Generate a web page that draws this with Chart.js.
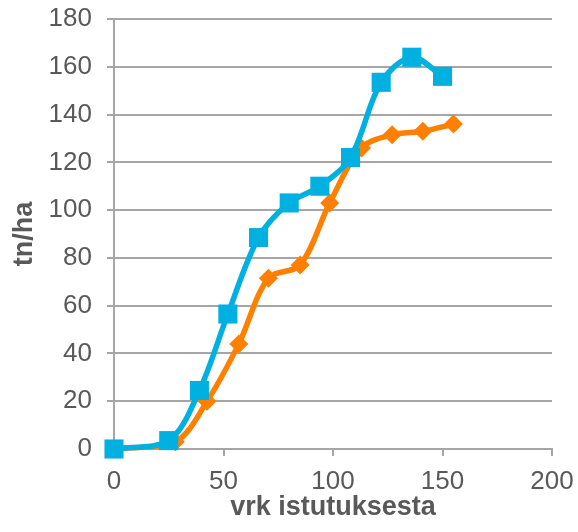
<!DOCTYPE html>
<html>
<head>
<meta charset="utf-8">
<script src="https://cdn.jsdelivr.net/npm/chart.js@4"></script>
<style>
  html, body { margin: 0; padding: 0; background: #fff; }
  #wrap { width: 578px; height: 532px; }
</style>
</head>
<body>
<div id="wrap"><canvas id="kuva" width="578" height="532"></canvas></div>
<script>
// sininen sarja (neliöt)
const vrkSininen = [0, 25, 39, 52, 66, 80, 94, 108, 122, 136, 150];
const tnSininen  = [0, 3.5, 24.5, 56.5, 88.5, 103, 110, 122, 153.5, 164, 156];

// oranssi sarja (vinoneliöt)
const vrkOranssi = [0, 28, 42.5, 57, 70.5, 85, 98.5, 113, 127, 141, 155];
const tnOranssi  = [0, 3, 20, 44, 71.5, 77, 103, 126, 131.5, 133, 136];

const xTicks = [0, 50, 100, 150, 200];
const yTicks = [0, 20, 40, 60, 80, 100, 120, 140, 160, 180];

const harmaa = '#595959';
const viiva = '#a6a6a6';
const fontti = 'Liberation Sans, Arial, sans-serif';

function pisteet(xs, ys) {
  return xs.map((x, i) => ({ x: x, y: ys[i] }));
}

const config = {
  type: 'scatter',
  data: {
    datasets: [
      {
        label: 'sarja 1',
        data: pisteet(vrkSininen, tnSininen),
        showLine: true,
        clip: false,
        borderColor: '#00b0e0',
        backgroundColor: '#00b0e0',
        borderWidth: 5.5,
        tension: 0.33,
        pointStyle: 'rect',
        pointRadius: 13.5,
        pointBorderWidth: 0,
      },
      {
        label: 'sarja 2',
        data: pisteet(vrkOranssi, tnOranssi),
        showLine: true,
        clip: false,
        borderColor: '#ff8000',
        backgroundColor: '#ff8000',
        borderWidth: 5.5,
        tension: 0.33,
        pointStyle: 'rectRot',
        pointRadius: 9.5,
        pointBorderWidth: 0,
      },
    ],
  },
  options: {
    responsive: false,
    animation: false,
    layout: { padding: { top: 19, right: 26, left: 0, bottom: 0 } },
    plugins: {
      legend: { display: false },
      tooltip: { enabled: false },
    },
    scales: {
      x: {
        type: 'linear',
        min: 0,
        max: 200,
        afterBuildTicks: (s) => { s.ticks = xTicks.map(v => ({ value: v })); },
        afterFit: (s) => { s.height = 83; s.paddingLeft = 0; s.paddingRight = 0; },
        grid: {
          display: true,
          drawOnChartArea: false,
          drawTicks: true,
          tickLength: 7,
          color: viiva,
          lineWidth: 2,
        },
        border: { color: viiva, width: 2 },
        ticks: {
          color: harmaa,
          font: { family: fontti, size: 26 },
          padding: 10,
          maxRotation: 0,
        },
        title: {
          display: true,
          text: 'vrk istutuksesta',
          color: harmaa,
          font: { family: fontti, size: 27, weight: 'bold' },
          padding: { top: 0, bottom: 8 },
        },
      },
      y: {
        type: 'linear',
        min: 0,
        max: 180,
        afterBuildTicks: (s) => { s.ticks = yTicks.map(v => ({ value: v })); },
        afterFit: (s) => { s.width = 114; s.paddingTop = 0; s.paddingBottom = 0; },
        grid: {
          color: viiva,
          lineWidth: 2,
          drawTicks: true,
          tickLength: 7,
        },
        border: { color: viiva, width: 2 },
        ticks: {
          color: harmaa,
          font: { family: fontti, size: 26 },
          padding: 15,
        },
        title: {
          display: true,
          text: 'tn/ha',
          color: harmaa,
          font: { family: fontti, size: 27, weight: 'bold' },
          padding: { top: 8, bottom: 0 },
        },
      },
    },
  },
};

new Chart(document.getElementById('kuva'), config);
</script>
</body>
</html>
